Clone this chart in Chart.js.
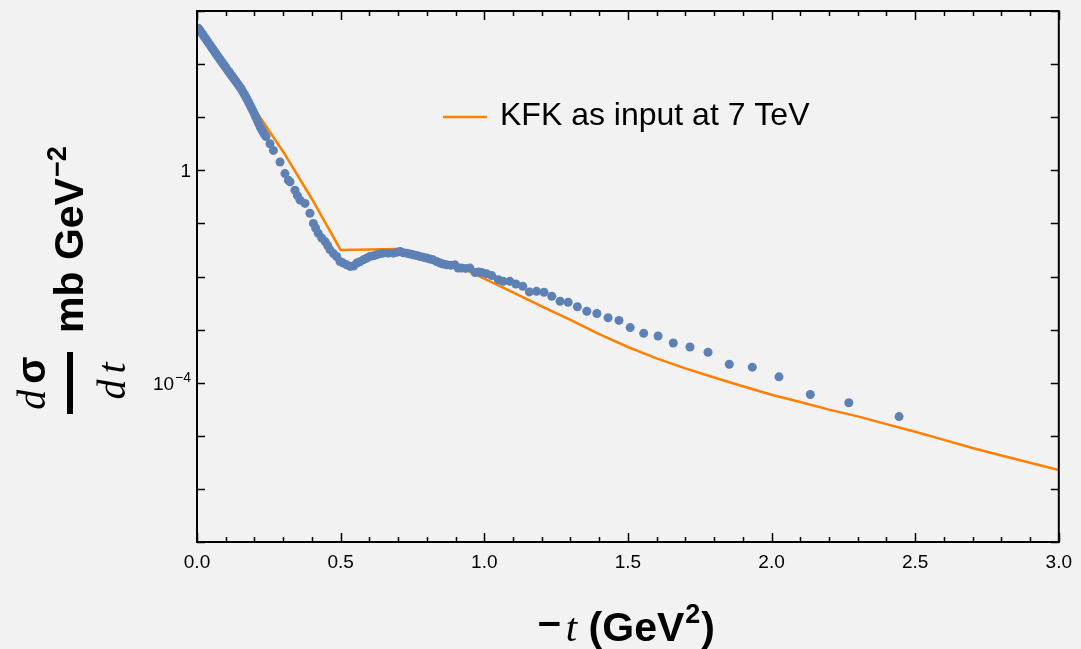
<!DOCTYPE html>
<html>
<head>
<meta charset="utf-8">
<script src="https://cdn.jsdelivr.net/npm/chart.js@4.4.1/dist/chart.umd.min.js"></script>
<style>
  html, body { margin: 0; padding: 0; background: #f2f2f2; }
  canvas { display: block; }
</style>
</head>
<body>
<canvas id="chart" width="1081" height="649"></canvas>
<script>
// TOTEM 7 TeV data (-t in GeV^2, dsigma/dt in mb GeV^-2)
const totemT = [
  0.005, 0.010, 0.015, 0.020, 0.025, 0.030, 0.035, 0.040, 0.045, 0.050,
  0.055, 0.060, 0.065, 0.070, 0.075, 0.080, 0.085, 0.090, 0.095, 0.100,
  0.105, 0.110, 0.115, 0.120, 0.125, 0.130, 0.135, 0.140, 0.145, 0.150,
  0.155, 0.160, 0.165, 0.170, 0.175, 0.180, 0.185, 0.190, 0.195, 0.200,
  0.205, 0.210, 0.215, 0.220, 0.225, 0.230, 0.235, 0.240, 0.254, 0.266,
  0.289, 0.306, 0.318, 0.324, 0.341, 0.350, 0.359, 0.376, 0.393, 0.405,
  0.413, 0.422, 0.434, 0.446, 0.455, 0.463, 0.475, 0.486, 0.498, 0.509,
  0.521, 0.533, 0.545, 0.556, 0.567, 0.579, 0.590, 0.602, 0.614, 0.625,
  0.637, 0.648, 0.666, 0.683, 0.695, 0.707, 0.718, 0.730, 0.742, 0.753,
  0.765, 0.776, 0.788, 0.800, 0.811, 0.822, 0.834, 0.846, 0.857, 0.869,
  0.884, 0.898, 0.909, 0.921, 0.935, 0.950, 0.968, 0.980, 0.991, 1.008,
  1.026, 1.049, 1.066, 1.089, 1.110, 1.134, 1.157, 1.182, 1.208, 1.235,
  1.264, 1.292, 1.324, 1.357, 1.392, 1.431, 1.469, 1.508, 1.555, 1.605,
  1.658, 1.716, 1.779, 1.853, 1.933, 2.026, 2.135, 2.269, 2.444
];
const totemSig = [
  472, 433, 396, 361, 329, 301, 275, 251, 230, 210,
  192, 176, 160, 146.5, 134, 122, 112, 102.6, 94.1, 86.3,
  78.7, 72.6, 66.6, 61.0, 56.2, 51.8, 47.4, 43.5, 39.9, 36.6,
  33.2, 29.8, 26.8, 24.0, 21.4, 18.9, 16.8, 14.8, 13.1, 11.5,
  10.0, 8.67, 7.55, 6.53, 5.86, 5.26, 4.72, 4.33, 3.16, 2.37,
  1.43, 0.867, 0.65, 0.604, 0.422, 0.33, 0.274, 0.238, 0.155, 0.100,
  0.082, 0.0653, 0.053, 0.0454, 0.038, 0.0318, 0.027, 0.0238, 0.0192, 0.0179,
  0.0166, 0.0155, 0.0158, 0.0179, 0.019, 0.0206, 0.022, 0.0238, 0.0245, 0.0256,
  0.0268, 0.0275, 0.0275, 0.0275, 0.0285, 0.0295, 0.028, 0.0275, 0.0265, 0.0256,
  0.0248, 0.0238, 0.023, 0.0222, 0.0214, 0.0206, 0.0192, 0.0179, 0.0172, 0.0166,
  0.0162, 0.0166, 0.0144, 0.0144, 0.0142, 0.0144, 0.0119, 0.0121, 0.0119, 0.0113,
  0.0104, 0.0087, 0.0081, 0.0081, 0.00724, 0.00653, 0.00513, 0.00526, 0.00504, 0.00424,
  0.00342, 0.00327, 0.00269, 0.00222, 0.00201, 0.00167, 0.00149, 0.00109, 0.00085, 0.000756,
  0.000558, 0.00047, 0.000374, 0.000223, 0.000196, 0.000129, 6.0e-5, 4.2e-5, 2.3e-5
];

// KFK model curve
const kfkT = [
  0.0, 0.1, 0.2, 0.3, 0.4, 0.5, 0.6, 0.7, 0.8, 0.9,
  1.0, 1.1, 1.2, 1.3, 1.4, 1.5, 1.6, 1.7, 1.8, 1.9,
  2.0, 2.1, 2.2, 2.3, 2.4, 2.5, 2.6, 2.7, 2.8, 2.9, 3.0
];
const kfkSig = [
  479, 84.5, 14.3, 2.24, 0.288, 0.0316, 0.0322, 0.0330, 0.0243, 0.0165,
  0.00912, 0.0050, 0.00274, 0.00152, 0.000823, 0.00047, 0.000287, 0.000186, 0.000125, 8.6e-5,
  5.94e-5, 4.33e-5, 3.11e-5, 2.32e-5, 1.66e-5, 1.19e-5, 8.37e-6, 5.89e-6, 4.27e-6, 3.10e-6, 2.27e-6
];

const xTicks = [0, 0.5, 1.0, 1.5, 2.0, 2.5, 3.0];
const yTicks = [1e-7, 1e-6, 1e-5, 1e-4, 1e-3, 1e-2, 1e-1, 1, 10, 100, 1000];
const yLabelValues = [1, 1e-4];
const yLabelBase = ['1', '10'];
const yLabelExp = ['', '\u22124'];

const legendLabel = 'KFK as input at 7 TeV';
const blue = '#5e81b5';
const orange = '#ff8000';

const sans = '"Liberation Sans", Arial, sans-serif';
const serif = '"Liberation Serif", "Times New Roman", serif';

// frame, inward ticks, y labels, axis titles and legend
const decoPlugin = {
  id: 'deco',
  afterDraw(chart) {
    const ctx = chart.ctx;
    const a = chart.chartArea;
    const xs = chart.scales.x;
    const ys = chart.scales.y;
    ctx.save();
    ctx.strokeStyle = '#000';
    ctx.fillStyle = '#000';

    // frame
    ctx.lineWidth = 2;
    ctx.strokeRect(a.left, a.top, a.right - a.left, a.bottom - a.top);

    // x ticks (major every 0.5, minor every 0.1) pointing inwards
    ctx.lineWidth = 1.5;
    for (let i = 0; i <= 30; i++) {
      const v = i / 10;
      const px = Math.round(xs.getPixelForValue(v)) + 0.5;
      const len = i % 5 === 0 ? 9 : 5;
      ctx.beginPath();
      ctx.moveTo(px, a.bottom); ctx.lineTo(px, a.bottom - len);
      ctx.moveTo(px, a.top); ctx.lineTo(px, a.top + len);
      ctx.stroke();
    }
    // y ticks on each decade
    yTicks.forEach(v => {
      const py = Math.round(ys.getPixelForValue(v)) + 0.5;
      ctx.beginPath();
      ctx.moveTo(a.left, py); ctx.lineTo(a.left + 8, py);
      ctx.moveTo(a.right, py); ctx.lineTo(a.right - 8, py);
      ctx.stroke();
    });

    // y tick labels
    ctx.textBaseline = 'alphabetic';
    yLabelValues.forEach((v, i) => {
      const py = ys.getPixelForValue(v);
      let right = a.left - 6;
      if (yLabelExp[i]) {
        ctx.font = '14px ' + sans;
        ctx.textAlign = 'right';
        ctx.fillText(yLabelExp[i], right, py - 1);
        right -= ctx.measureText(yLabelExp[i]).width + 1;
      }
      ctx.font = '19px ' + sans;
      ctx.textAlign = 'right';
      ctx.fillText(yLabelBase[i], right, py + 7);
    });

    // x axis title: -t (GeV^2)
    ctx.textAlign = 'left';
    let x = 538;
    const by = 641;
    ctx.font = 'bold 41px ' + sans;
    ctx.fillText('\u2013', x, by - 6);
    x += ctx.measureText('\u2013').width + 5;
    ctx.font = 'italic 41px ' + serif;
    ctx.fillText('t', x, by);
    x += ctx.measureText('t').width;
    ctx.font = 'bold 41px ' + sans;
    ctx.fillText(' (GeV', x, by);
    x += ctx.measureText(' (GeV').width + 1;
    ctx.font = 'bold 27px ' + sans;
    ctx.fillText('2', x, by - 18);
    x += ctx.measureText('2').width + 1;
    ctx.font = 'bold 41px ' + sans;
    ctx.fillText(')', x, by);

    // y axis title, rotated: d sigma / d t  mb GeV^-2
    const rot = (txt, font, sx, sy) => {
      ctx.save();
      ctx.font = font;
      ctx.translate(sx, sy);
      ctx.rotate(-Math.PI / 2);
      ctx.fillText(txt, 0, 0);
      ctx.restore();
    };
    const width = (txt, font) => { ctx.font = font; return ctx.measureText(txt).width; };

    const fD = 'italic 40px ' + serif;
    const fS = 'bold 40px ' + sans;
    // numerator
    const wd = width('d', fD), ws = width('\u03c3', fS);
    let sy = 383 + (wd + 6 + ws) / 2;
    rot('d', fD, 45, sy);
    rot('\u03c3', fS, 45, sy - wd - 6);
    // fraction bar
    ctx.fillRect(67, 352, 6, 62);
    // denominator
    const wt = width('t', fD);
    sy = 381 + (wd + 6 + wt) / 2;
    rot('d', fD, 125, sy);
    rot('t', fD, 125, sy - wd - 6);
    // units
    const fU = 'bold 41px ' + sans;
    rot('mb GeV', fU, 83, 333);
    const wu = width('mb GeV', fU);
    rot('\u22122', 'bold 27px ' + sans, 66, 333 - wu - 1);

    // legend
    ctx.strokeStyle = orange;
    ctx.lineWidth = 2.5;
    ctx.beginPath();
    ctx.moveTo(443, 117); ctx.lineTo(487, 117);
    ctx.stroke();
    ctx.font = '32px ' + sans;
    ctx.fillStyle = '#000';
    ctx.textAlign = 'left';
    ctx.fillText(legendLabel, 500, 125);

    ctx.restore();
  }
};

const ctx = document.getElementById('chart');

new Chart(ctx, {
  type: 'scatter',
  data: {
    datasets: [
      {
        label: 'TOTEM 7 TeV',
        data: totemT.map((t, i) => ({ x: t, y: totemSig[i] })),
        pointRadius: 4.5,
        pointBackgroundColor: blue,
        pointBorderWidth: 0,
        showLine: false,
      },
      {
        label: legendLabel,
        data: kfkT.map((t, i) => ({ x: t, y: kfkSig[i] })),
        showLine: true,
        borderColor: orange,
        borderWidth: 2.5,
        pointRadius: 0,
        tension: 0,
        fill: false,
      },
    ],
  },
  options: {
    responsive: false,
    animation: false,
    events: [],
    layout: { padding: { top: 11, right: 22, left: 0, bottom: 0 } },
    plugins: {
      legend: { display: false },
      tooltip: { enabled: false },
    },
    scales: {
      x: {
        type: 'linear',
        min: 0,
        max: 3,
        afterFit: (s) => { s.height = 107; },
        afterBuildTicks: (s) => { s.ticks = xTicks.map(v => ({ value: v })); },
        grid: { display: false, drawTicks: false },
        border: { display: false },
        ticks: {
          padding: 9,
          color: '#000',
          font: { family: 'Liberation Sans', size: 19 },
          callback: (v) => Number(v).toFixed(1),
        },
      },
      y: {
        type: 'logarithmic',
        min: 1e-7,
        max: 1e3,
        afterFit: (s) => { s.width = 197; },
        grid: { display: false, drawTicks: false },
        border: { display: false },
        ticks: { display: false },
      },
    },
  },
  plugins: [decoPlugin],
});
</script>
</body>
</html>
